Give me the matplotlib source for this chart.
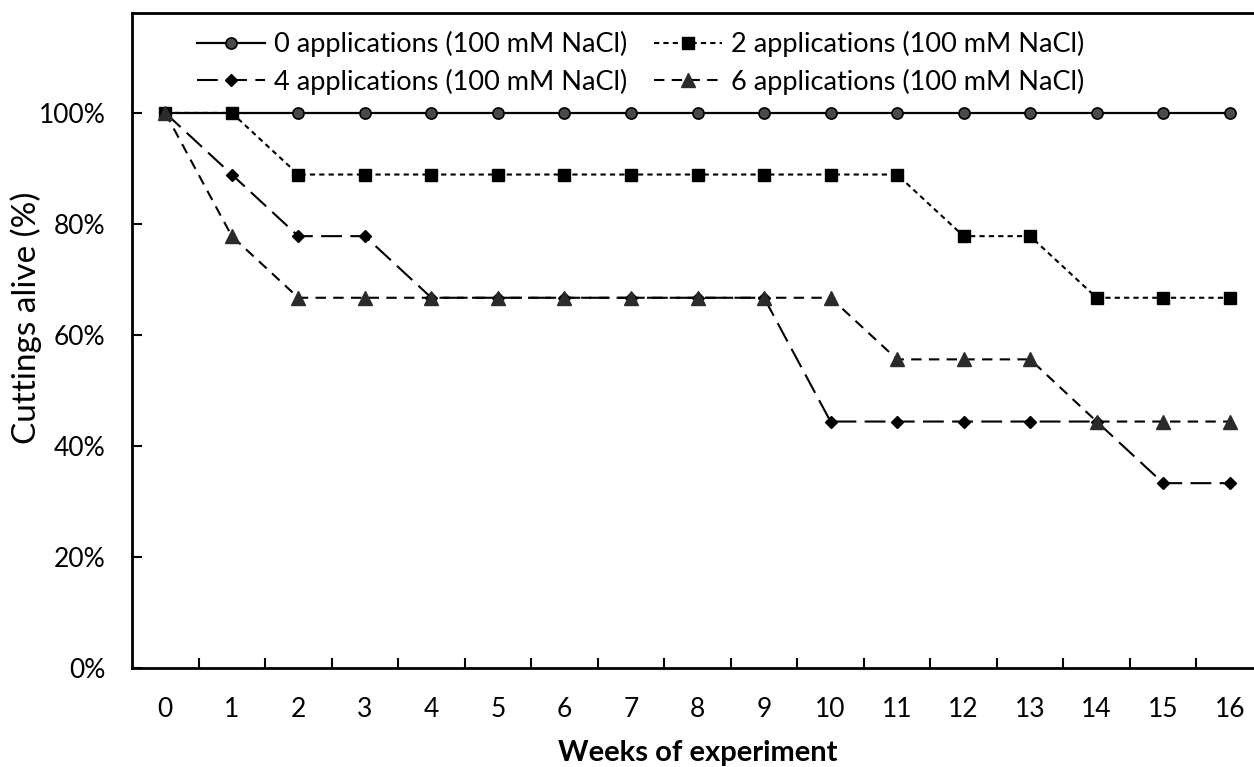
import matplotlib.pyplot as plt
from matplotlib.ticker import FixedLocator, PercentFormatter

plt.rcParams['font.family'] = ['Lato', 'DejaVu Sans']

# Survival of cuttings per week, fraction alive
weeks = list(range(17))
apps0 = [1.0] * 17
apps2 = [1.0, 1.0, 0.889, 0.889, 0.889, 0.889, 0.889, 0.889, 0.889, 0.889, 0.889, 0.889,
         0.778, 0.778, 0.667, 0.667, 0.667]
apps4 = [1.0, 0.889, 0.778, 0.778, 0.667, 0.667, 0.667, 0.667, 0.667, 0.667, 0.444, 0.444,
         0.444, 0.444, 0.444, 0.333, 0.333]
apps6 = [1.0, 0.778, 0.667, 0.667, 0.667, 0.667, 0.667, 0.667, 0.667, 0.667, 0.667, 0.556,
         0.556, 0.556, 0.444, 0.444, 0.444]
labels = ['0 applications (100 mM NaCl)', '2 applications (100 mM NaCl)',
          '4 applications (100 mM NaCl)', '6 applications (100 mM NaCl)']
y_ticks = [0, 0.2, 0.4, 0.6, 0.8, 1.0]

fig = plt.figure(figsize=(12.54, 7.67), dpi=100)
ax = fig.add_axes([132 / 1254, 1 - 668 / 767, 1131 / 1254, 655 / 767])

l0, = ax.plot(weeks, apps0, color='black', lw=1.6, marker='o', ms=8,
              mfc='#4a4a4a', mec='black', mew=1.2, label=labels[0])
l2, = ax.plot(weeks, apps2, color='black', lw=1.5, ls=(0, (2.5, 2)), marker='s', ms=8,
              mfc='black', mec='black', label=labels[1])
l4, = ax.plot(weeks, apps4, color='black', lw=1.5, ls=(0, (10, 4)), marker='D', ms=6,
              mfc='black', mec='black', label=labels[2])
l6, = ax.plot(weeks, apps6, color='black', lw=1.5, ls=(0, (5, 3.5)), marker='^', ms=10,
              mfc='#2b2b2b', mec='#2b2b2b', label=labels[3])

ax.set_xlim(-0.5, 16.5)
ax.set_ylim(0, 1.18)

ax.xaxis.set_major_locator(FixedLocator(weeks))
ax.xaxis.set_minor_locator(FixedLocator([w + 0.5 for w in weeks[:-1]]))
ax.set_xticklabels([str(w) for w in weeks])
ax.yaxis.set_major_locator(FixedLocator(y_ticks))
ax.yaxis.set_major_formatter(PercentFormatter(1.0, decimals=0))

ax.tick_params(axis='x', which='major', length=0, pad=21, labelsize=19)
ax.tick_params(axis='x', which='minor', direction='in', length=7, width=1.5)
ax.tick_params(axis='y', direction='in', length=7, width=1.5, pad=19, labelsize=19)

for side in ['left', 'bottom', 'top']:
    ax.spines[side].set_linewidth(2)
ax.spines['right'].set_visible(False)

ax.set_xlabel('Weeks of experiment', fontsize=21, fontweight='bold')
ax.xaxis.set_label_coords(0.5, -0.11)
ax.set_ylabel('Cuttings alive (%)', fontsize=24)
ax.yaxis.set_label_coords(-0.08, 0.535)

ax.legend([l0, l4, l2, l6], [labels[0], labels[2], labels[1], labels[3]],
          ncol=2, frameon=False, fontsize=19.5, loc='upper left',
          bbox_to_anchor=(197 / 1254, 1 - 31 / 767), bbox_transform=fig.transFigure,
          borderaxespad=0, borderpad=0, handlelength=2.5, handletextpad=0.33,
          columnspacing=1.0, labelspacing=0.42)

fig.savefig('out.png', dpi=100)
